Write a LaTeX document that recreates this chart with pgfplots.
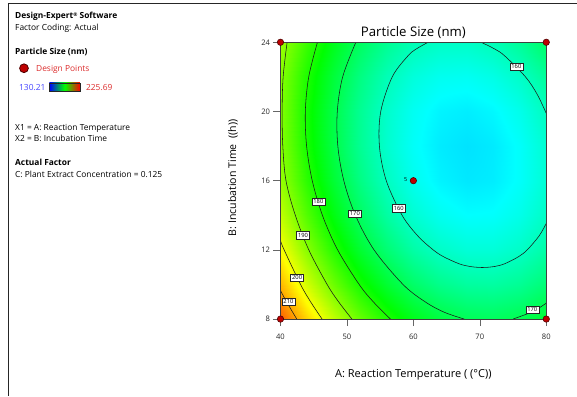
\documentclass[border=0pt]{standalone}
\usepackage{fontspec}
\setmainfont{Open Sans}
\usepackage{pgfplots}
\usepackage{pgfplotstable}
\pgfplotsset{compat=1.18}
\definecolor{dpred}{RGB}{190,0,0}
\definecolor{dpedge}{RGB}{80,0,0}
\definecolor{txtred}{RGB}{220,45,45}
\definecolor{txtblue}{RGB}{70,70,255}

\pgfplotstableread{
x y z
40 8 217.20
44 8 205.76
48 8 195.88
52 8 187.56
56 8 180.80
60 8 175.60
64 8 171.96
68 8 169.88
72 8 169.36
76 8 170.40
80 8 173.00
40 10 208.60
44 10 197.41
48 10 187.78
52 10 179.71
56 10 173.20
60 10 168.25
64 10 164.86
68 10 163.03
72 10 162.76
76 10 164.05
80 10 166.90
40 12 201.59
44 12 190.65
48 12 181.27
52 12 173.45
56 12 167.19
60 12 162.49
64 12 159.35
68 12 157.77
72 12 157.75
76 12 159.29
80 12 162.39
40 14 196.15
44 14 185.46
48 14 176.33
52 14 168.76
56 14 162.75
60 14 158.30
64 14 155.41
68 14 154.08
72 14 154.31
76 14 156.10
80 14 159.45
40 16 192.30
44 16 181.86
48 16 172.98
52 16 165.66
56 16 159.90
60 16 155.70
64 16 153.06
68 16 151.98
72 16 152.46
76 16 154.50
80 16 158.10
40 18 190.60
44 18 179.84
48 18 171.21
52 18 164.14
56 18 158.63
60 18 154.68
64 18 152.29
68 18 151.46
72 18 152.19
76 18 154.48
80 18 158.33
40 20 190.30
44 20 179.40
48 20 171.02
52 20 164.20
56 20 158.94
60 20 155.24
64 20 153.10
68 20 152.52
72 20 153.50
76 20 156.04
80 20 160.14
40 22 190.60
44 22 180.54
48 22 172.41
52 22 165.84
56 22 160.83
60 22 157.38
64 22 155.49
68 22 155.16
72 22 156.39
76 22 159.18
80 22 163.53
40 24 192.70
44 24 183.26
48 24 175.38
52 24 169.06
56 24 164.30
60 24 161.10
64 24 159.46
68 24 159.38
72 24 160.86
76 24 163.90
80 24 168.50
}\surface

\begin{document}
\begin{tikzpicture}
\path (0bp,0bp) rectangle (577bp,-396bp);
\draw[line width=0.9bp, black!85] (8bp,-396bp) -- (8bp,-3.2bp) -- (577bp,-3.2bp);

\begin{scope}[every node/.style={anchor=base west, inner sep=0pt}]
\node[font=\fontsize{8.4bp}{10bp}\selectfont\bfseries] at (15bp,-19bp) {Design-Expert{\fontsize{5bp}{5bp}\selectfont\raisebox{2.8bp}{®}} Software};
\node[font=\fontsize{8.4bp}{10bp}\selectfont] at (15bp,-31bp) {Factor Coding: Actual};
\node[font=\fontsize{8.4bp}{10bp}\selectfont\bfseries] at (15bp,-55bp) {Particle Size (nm)};
\node[font=\fontsize{8.4bp}{10bp}\selectfont, text=txtred] at (36bp,-71.5bp) {Design Points};
\node[font=\fontsize{8.4bp}{10bp}\selectfont, text=txtblue] at (19bp,-91bp) {130.21};
\node[font=\fontsize{8.4bp}{10bp}\selectfont, text=txtred] at (86bp,-91bp) {225.69};
\node[font=\fontsize{8.4bp}{10bp}\selectfont] at (15bp,-130.5bp) {X1 = A: Reaction Temperature};
\node[font=\fontsize{8.4bp}{10bp}\selectfont] at (15bp,-141.5bp) {X2 = B: Incubation Time};
\node[font=\fontsize{8.4bp}{10bp}\selectfont\bfseries] at (15bp,-166bp) {Actual Factor};
\node[font=\fontsize{8.4bp}{10bp}\selectfont] at (15bp,-178bp) {C: Plant Extract Concentration = 0.125};
\end{scope}
\fill[dpred, draw=dpedge, line width=0.8bp] (24bp,-68.3bp) circle (4.4bp);
\shade[left color=blue, right color=red, middle color=green] (49.3bp,-83bp) rectangle (80bp,-91.7bp);
\draw[black!85, line width=0.7bp] (49.3bp,-83bp) rectangle (80bp,-91.7bp);

\begin{axis}[
  at={(280.7bp,-319.3bp)}, anchor=south west,
  scale only axis, width=266bp, height=277bp,
  xmin=40, xmax=80, ymin=8, ymax=24,
  xtick={40,50,60,70,80}, ytick={8,12,16,20,24},
  tick align=outside, xtick pos=bottom, ytick pos=left,
  major tick length=7bp,
  tick style={black!60, line width=0.6bp},
  axis line style={black!75, line width=0.8bp},
  axis on top,
  ticklabel style={font=\fontsize{7.6bp}{8bp}\selectfont, text=black!85},
  xticklabel style={yshift=-4bp},
  /pgf/number format/assume math mode=true,
  title={Particle Size (nm)},
  title style={font=\fontsize{13.2bp}{15bp}\selectfont, at={(axis description cs:0.5,1.013)}, anchor=center, inner sep=0pt},
  xlabel={A: Reaction Temperature ( (°C))},
  xlabel style={font=\fontsize{11bp}{13bp}\selectfont, at={(axis description cs:0.5,-0.2)}, anchor=center, inner sep=0pt},
  ylabel={B: Incubation Time~ ((h))},
  ylabel style={font=\fontsize{10.6bp}{13bp}\selectfont, at={(axis description cs:-0.179,0.51)}, anchor=center, inner sep=0pt},
  colormap={de}{rgb255(0)=(0,0,255) rgb255(1)=(0,255,255) rgb255(2)=(0,255,0) rgb255(3)=(255,255,0) rgb255(4)=(255,0,0)},
  point meta min=130.21, point meta max=225.69,
  clip=true,
]
\addplot[surf, shader=interp, mesh/cols=11, point meta=explicit] table[x=x, y=y, meta=z] {\surface};

\pgfplotsset{cline/.style={black!90, line width=0.55bp, smooth, tension=0.55}}
\addplot[cline] coordinates {(62.21,24) (60.38,23.6) (59.15,23.2) (56.82,22) (55.09,20) (54.89,18) (55.92,16) (58.30,14) (60.68,12.8) (62.98,12) (64.56,11.6) (66.86,11.2) (68.49,11.04) (70.38,10.98) (72.23,11.04) (73.76,11.2) (75.80,11.6) (77.13,12) (78.91,12.8) (80,13.53)};
\addplot[cline] coordinates {(80,19.89) (78.62,21) (76.87,22) (73.78,23.2) (72.29,23.6) (70.21,24)};
\addplot[cline] coordinates {(67.65,8) (64.61,8.4) (61.75,9) (58.44,10) (54.08,12) (51.28,14) (49.53,16) (48.63,18) (48.55,20) (49.36,22) (51.34,24)};
\addplot[cline] coordinates {(75.01,8) (77.80,8.4) (78.92,8.64) (80,8.92)};
\addplot[cline] coordinates {(56.55,8) (53.96,9) (51.84,10) (48.60,12) (46.31,14) (44.78,16) (43.93,18) (43.74,20) (44.25,22) (45.56,24)};
\addplot[cline] coordinates {(50.75,8) (48.74,9) (47.02,10) (44.26,12) (42.23,14) (40.83,16) (40.35,18) (40.25,20) (40.4,22) (41.0,24)};
\addplot[cline] coordinates {(46.26,8) (44.53,9) (43.02,10) (40.55,12) (40,12.53)};
\addplot[cline] coordinates {(42.45,8) (40.91,9) (40,9.65)};

\tikzset{clab/.style={draw=black!85, line width=0.45bp, fill=white, inner sep=1.5bp, font=\fontsize{5.8bp}{6bp}\selectfont}}
\node[clab] at (axis cs:75.5,22.6) {160};
\node[clab] at (axis cs:57.8,14.4) {160};
\node[clab] at (axis cs:51.2,14.1) {170};
\node[clab] at (axis cs:77.9,8.55) {170};
\node[clab] at (axis cs:45.7,14.8) {180};
\node[clab] at (axis cs:43.4,12.85) {190};
\node[clab] at (axis cs:42.5,10.4) {200};
\node[clab] at (axis cs:41.2,9.0) {210};

\addplot[only marks, mark=*, mark size=3.2bp, mark options={fill=dpred, draw=dpedge, line width=0.6bp}] coordinates {(40,8) (40,24) (80,8) (80,24) (60,16)};
\node[font=\fontsize{5.5bp}{6bp}\selectfont, anchor=east, inner sep=0pt] at (axis cs:59.1,16.05) {5};
\end{axis}
\end{tikzpicture}
\end{document}
